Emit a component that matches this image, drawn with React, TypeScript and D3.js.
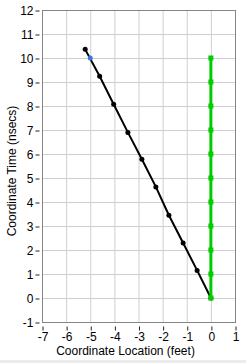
import React, { useEffect, useRef } from 'react';
import * as d3 from 'd3';

// black trajectory (feet, nsecs)
const pathX = [0, -0.57, -1.15, -1.74, -2.28, -2.86, -3.44, -4.03, -4.61, -5.21];
const pathY = [0, 1.15, 2.29, 3.45, 4.63, 5.78, 6.9, 8.07, 9.24, 10.36];
// green vertical series
const greenY = [0, 1, 2, 3, 4, 5, 6, 7, 8, 9, 10];
// highlighted point
const markX = [-5];
const markY = [10];

const xTicks = [-7, -6, -5, -4, -3, -2, -1, 0, 1];
const yTicks = [-1, 0, 1, 2, 3, 4, 5, 6, 7, 8, 9, 10, 11, 12];

const App = () => {
  const ref = useRef(null);
  const W = 246;
  const H = 363;
  const margin = { top: 10, right: 11, bottom: 41, left: 42 };

  useEffect(() => {
    const svg = d3.select(ref.current);
    svg.selectAll('*').remove();
    const width = W - margin.left - margin.right;
    const height = H - margin.top - margin.bottom;

    const x = d3.scaleLinear().domain([-7, 1]).range([0, width]);
    const y = d3.scaleLinear().domain([-1, 12]).range([height, 0]);

    svg.append('rect').attr('width', W).attr('height', H).attr('fill', '#fff');
    svg.append('rect').attr('y', H - 3).attr('width', W).attr('height', 3).attr('fill', '#ececec');

    const g = svg.append('g').attr('transform', `translate(${margin.left},${margin.top})`);

    // grid
    g.selectAll('.vgrid').data(xTicks).join('line')
      .attr('x1', d => x(d) + 0.5).attr('x2', d => x(d) + 0.5)
      .attr('y1', 0).attr('y2', height)
      .attr('stroke', '#cfcfcf').attr('stroke-width', 1);
    g.selectAll('.hgrid').data(yTicks).join('line')
      .attr('y1', d => y(d) + 0.5).attr('y2', d => y(d) + 0.5)
      .attr('x1', 0).attr('x2', width)
      .attr('stroke', '#cfcfcf').attr('stroke-width', 1);

    // frame
    g.append('rect').attr('x', 0.5).attr('y', 0.5).attr('width', width).attr('height', height)
      .attr('fill', 'none').attr('stroke', '#858585');

    const font = '"Liberation Sans", Arial, sans-serif';
    const fmt = d => String(d);

    const xAxis = g.append('g').attr('transform', `translate(0.5,${height + 0.5})`)
      .call(d3.axisBottom(x).tickValues(xTicks).tickSize(5).tickFormat(fmt));
    const yAxis = g.append('g').attr('transform', 'translate(0.5,0.5)')
      .call(d3.axisLeft(y).tickValues(yTicks).tickSize(5).tickFormat(fmt));
    [xAxis, yAxis].forEach(a => {
      a.select('.domain').remove();
      a.selectAll('.tick line').attr('stroke', '#222');
      a.selectAll('text').attr('fill', '#000').style('font-family', font).style('font-size', '12px');
    });
    xAxis.selectAll('.tick line').attr('y1', 4).attr('y2', 8);
    xAxis.selectAll('.tick text').attr('y', 10);
    yAxis.selectAll('.tick line').attr('x1', -3).attr('x2', -7);
    yAxis.selectAll('.tick text').attr('x', -9);

    // black line
    const pts = pathX.map((v, i) => [v, pathY[i]]);
    const line = d3.line().x(d => x(d[0])).y(d => y(d[1]));
    g.append('path').datum(pts).attr('d', line).attr('fill', 'none')
      .attr('stroke', '#000').attr('stroke-width', 2);
    g.selectAll('.bdot').data(pts).join('circle')
      .attr('cx', d => x(d[0])).attr('cy', d => y(d[1])).attr('r', 2.5).attr('fill', '#000');

    // green line
    const gpts = greenY.map(v => [0, v]);
    g.append('path').datum(gpts).attr('d', line).attr('fill', 'none')
      .attr('stroke', '#00cc00').attr('stroke-width', 3);
    g.selectAll('.gdot').data(gpts).join('rect')
      .attr('x', d => x(d[0]) - 2.5).attr('y', d => y(d[1]) - 2.5)
      .attr('width', 5).attr('height', 5).attr('fill', '#00cc00');

    // highlight
    g.selectAll('.mdot').data(markX).join('circle')
      .attr('cx', d => x(d)).attr('cy', (d, i) => y(markY[i])).attr('r', 2.5).attr('fill', '#3a78d8');

    // labels
    svg.append('text').attr('x', margin.left + width / 2 - 13).attr('y', H - 8)
      .attr('text-anchor', 'middle').style('font-family', font).style('font-size', '12px')
      .text('Coordinate Location (feet)');
    svg.append('text').attr('transform', `translate(16,${margin.top + height / 2 + 5}) rotate(-90)`)
      .attr('text-anchor', 'middle').style('font-family', font).style('font-size', '12px')
      .text('Coordinate Time (nsecs)');
  }, []);

  return (
    <svg ref={ref} width={W} height={H} style={{ position: 'absolute', left: 0, top: 0 }} />
  );
};

export default App;
